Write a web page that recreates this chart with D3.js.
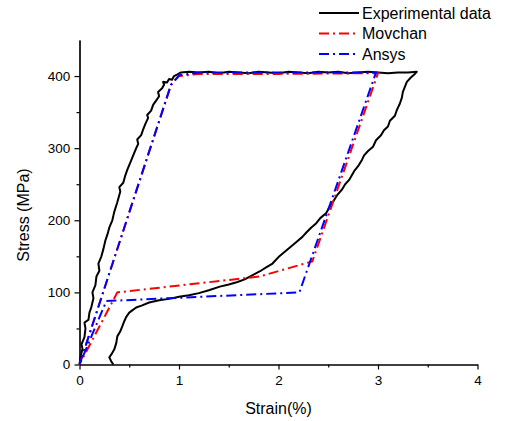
<!DOCTYPE html>
<html>
<head>
<meta charset="utf-8">
<script src="https://cdn.jsdelivr.net/npm/d3@7"></script>
<style>
  body { margin: 0; background: #fff; }
  text { font-family: Arial, "Liberation Sans", sans-serif; }
</style>
</head>
<body>
<svg id="chart" width="506" height="421"></svg>
<script>
// data: [strain %, stress MPa]
var seriesNames = ["Experimental data", "Movchan", "Ansys"];
var seriesColors = ["#000000", "#ff0000", "#0000ff"];

var experimental = [
  [0,0],[0.01,10],[0.03,22],[0.02,28],[0.05,38],[0.06,50],[0.05,58],[0.09,62],[0.10,72],[0.12,80],
  [0.14,92],[0.13,100],[0.16,110],[0.17,122],[0.20,130],[0.19,140],[0.22,150],[0.24,160],[0.26,172],
  [0.28,180],[0.30,190],[0.33,200],[0.35,212],[0.38,225],[0.41,240],[0.40,246],[0.44,252],[0.46,262],
  [0.48,270],[0.51,280],[0.54,290],[0.57,300],[0.59,306],[0.58,312],[0.62,318],[0.64,326],[0.66,333],
  [0.69,342],[0.68,346],[0.72,352],[0.74,360],[0.77,366],[0.80,372],[0.79,378],[0.83,383],[0.85,388],
  [0.84,392],[0.88,391],[0.90,396],[0.93,395],[0.95,400],[0.98,402],[1.02,405],[1.10,406],[1.2,405],
  [1.3,406],[1.4,404],[1.5,406],[1.6,405],[1.7,404],[1.8,406],[1.9,405],[2.0,404],[2.1,406],[2.2,405],
  [2.3,404],[2.4,406],[2.5,405],[2.6,406],[2.7,404],[2.8,405],[2.9,406],[3.0,405],[3.1,404],[3.2,405],
  [3.3,405],[3.39,406],
  [3.37,403],[3.33,398],[3.29,392],[3.27,385],[3.25,378],[3.24,370],[3.22,362],[3.19,353],[3.17,345],
  [3.12,338],[3.10,330],[3.06,325],[3.03,318],[2.98,311],[2.95,302],[2.90,296],[2.86,290],[2.84,284],
  [2.80,275],[2.76,268],[2.71,256],[2.67,250],[2.64,243],[2.59,235],[2.55,226],[2.52,220],[2.48,210],
  [2.42,203],[2.38,196],[2.33,190],[2.28,183],[2.24,177],[2.18,170],[2.12,163],[2.06,156],[2.00,149],
  [1.94,140],[1.88,135],[1.81,129],[1.74,124],[1.66,118],[1.58,114],[1.50,111],[1.41,108],[1.30,103],
  [1.20,99],[1.10,96],[1.00,94],[0.90,91],[0.80,89],[0.70,86],[0.63,82],[0.57,79],[0.53,75],[0.50,72],
  [0.47,66],[0.45,60],[0.43,53],[0.41,46],[0.38,39],[0.37,30],[0.35,21],[0.32,14],[0.30,10],[0.32,4],[0.34,0]
];

var movchan = [
  [0,0],[0.92,388],[1.0,400],[1.2,403],[2.0,403],[3.0,404],[2.34,143],[1.81,122],[0.38,100],[0,0]
];

var ansys = [
  [0,0],[0.92,388],[1.0,401],[1.2,405],[2.0,405],[2.98,405],[2.21,100],[0.27,88],[0,0]
];

var xTicks = [0, 1, 2, 3, 4];
var xMinor = [0.5, 1.5, 2.5, 3.5];
var yTicks = [0, 100, 200, 300, 400];
var yMinor = [50, 150, 250, 350];

var svg = d3.select("#chart");
var margin = {left: 79.5, right: 28.5, top: 40, bottom: 56.5};
var w = 506 - margin.left - margin.right;
var h = 421 - margin.top - margin.bottom;

var x = d3.scaleLinear().domain([0, 4]).range([0, w]);
var y = d3.scaleLinear().domain([0, 450]).range([h, 0]);

var g = svg.append("g").attr("transform", "translate(" + margin.left + "," + margin.top + ")");

// axes
var xAxis = g.append("g").attr("transform", "translate(0," + h + ")")
  .call(d3.axisBottom(x).tickValues(xTicks).tickSize(5).tickSizeOuter(0).tickFormat(d3.format("d")));
g.append("g").attr("transform", "translate(0," + h + ")")
  .call(d3.axisBottom(x).tickValues(xMinor).tickSize(3).tickSizeOuter(0).tickFormat(""));
var yAxis = g.append("g")
  .call(d3.axisLeft(y).tickValues(yTicks).tickSize(5).tickSizeOuter(0).tickFormat(d3.format("d")));
g.append("g")
  .call(d3.axisLeft(y).tickValues(yMinor).tickSize(3).tickSizeOuter(0).tickFormat(""));

g.selectAll(".domain").attr("stroke", "#000").attr("stroke-width", 1.2);
g.selectAll(".tick line").attr("stroke", "#000").attr("stroke-width", 1.2);
xAxis.selectAll("text").style("font-size", "13.5px").attr("fill", "#000").attr("dy", "0.9em");
yAxis.selectAll("text").style("font-size", "13.5px").attr("fill", "#000").attr("dx", "-0.1em");

// axis titles
svg.append("text").attr("x", margin.left + w / 2).attr("y", 414).attr("text-anchor", "middle")
  .style("font-size", "16px").text("Strain(%)");
svg.append("text").attr("transform", "translate(29,215) rotate(-90)").attr("text-anchor", "middle")
  .style("font-size", "16px").text("Stress (MPa)");

var line = d3.line().x(function(d) { return x(d[0]); }).y(function(d) { return y(d[1]); });

g.append("path").datum(experimental).attr("d", line)
  .attr("fill", "none").attr("stroke", seriesColors[0]).attr("stroke-width", 2).attr("stroke-linejoin", "round");
g.append("path").datum(movchan).attr("d", line)
  .attr("fill", "none").attr("stroke", seriesColors[1]).attr("stroke-width", 2).attr("stroke-dasharray", "10,4,2,4");
g.append("path").datum(ansys).attr("d", line)
  .attr("fill", "none").attr("stroke", seriesColors[2]).attr("stroke-width", 2).attr("stroke-dasharray", "10,4,2,4");

// legend
var dashes = [null, "10,4,2,4", "10,4,2,4"];
var legend = svg.append("g");
seriesNames.forEach(function(name, i) {
  var ly = 13 + i * 20.5;
  legend.append("line").attr("x1", 319).attr("x2", 359).attr("y1", ly).attr("y2", ly)
    .attr("stroke", seriesColors[i]).attr("stroke-width", 2).attr("stroke-dasharray", dashes[i]);
  legend.append("text").attr("x", 362).attr("y", ly).attr("dy", "0.35em")
    .style("font-size", "16px").text(name);
});
</script>
</body>
</html>
